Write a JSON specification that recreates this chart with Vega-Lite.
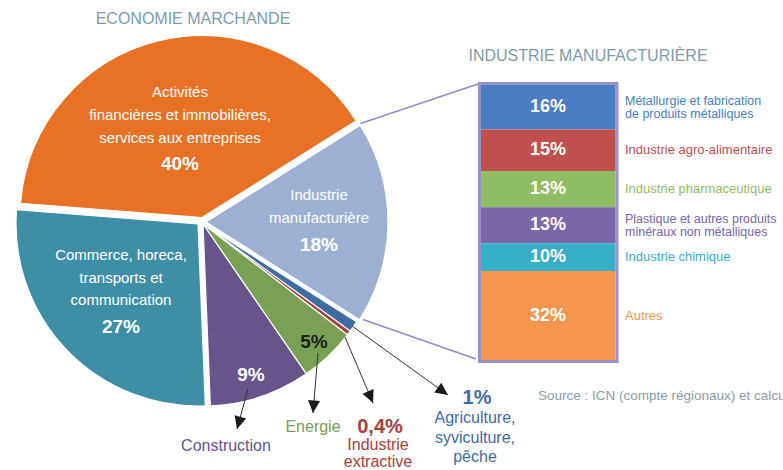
{
  "$schema": "https://vega.github.io/schema/vega-lite/v6.json",
  "width": 783,
  "height": 470,
  "autosize": {"type": "none"},
  "padding": 0,
  "background": "#ffffff",
  "config": {"view": {"stroke": null}, "font": "Liberation Sans"},
  "resolve": {"scale": {"y": "independent", "color": "independent"}},
  "layer": [
    {
      "data": {"values": [
        {"order": 1, "sector": "Activités financières et immobilières, services aux entreprises", "name": ["Activités", "financières et immobilières,", "services aux entreprises"], "value": 40, "label": "40%"},
        {"order": 2, "sector": "Industrie manufacturière", "name": ["Industrie", "manufacturière"], "value": 18, "label": "18%"},
        {"order": 3, "sector": "Agriculture, syviculture, pêche", "name": ["Agriculture,", "syviculture,", "pêche"], "value": 1, "label": "1%"},
        {"order": 4, "sector": "Industrie extractive", "name": ["Industrie", "extractive"], "value": 0.4, "label": "0,4%"},
        {"order": 5, "sector": "Energie", "name": ["Energie"], "value": 5, "label": "5%"},
        {"order": 6, "sector": "Construction", "name": ["Construction"], "value": 9, "label": "9%"},
        {"order": 7, "sector": "Commerce, horeca, transports et communication", "name": ["Commerce, horeca,", "transports et", "communication"], "value": 27, "label": "27%"}
      ]},
      "transform": [{"stack": "value", "groupby": [], "sort": [{"field": "order", "order": "ascending"}], "as": ["v0", "v1"]}],
      "layer": [
        {
          "transform": [{"filter": "datum.order >= 3 && datum.order <= 6"}],
          "mark": {"type": "arc", "radius": 182, "stroke": "#ffffff", "strokeWidth": 1.2},
          "encoding": {
            "x": {"datum": 203, "type": "quantitative", "scale": {"domain": [0, 783], "nice": false, "zero": false}, "axis": null},
            "y": {"datum": 224, "type": "quantitative", "scale": {"domain": [470, 0], "nice": false, "zero": false}, "axis": null},
            "theta": {"field": "v0", "type": "quantitative", "scale": {"domain": [0, 100.4], "range": [-1.4923, 4.7909]}},
            "theta2": {"field": "v1"},
            "color": {"field": "sector", "type": "nominal", "legend": null, "scale": {"domain": ["Activités financières et immobilières, services aux entreprises", "Industrie manufacturière", "Agriculture, syviculture, pêche", "Industrie extractive", "Energie", "Construction", "Commerce, horeca, transports et communication"], "range": ["#e97125", "#9db0d4", "#3f6ca3", "#a4403f", "#79a055", "#66548b", "#3e8fa6"]}}
          }
        },
        {
          "transform": [{"filter": "datum.order == 1"}],
          "mark": {"type": "arc", "radius": 182, "stroke": "#ffffff", "strokeWidth": 1.2},
          "encoding": {
            "x": {"datum": 202, "type": "quantitative", "scale": {"domain": [0, 783], "nice": false, "zero": false}, "axis": null},
            "y": {"datum": 217.5, "type": "quantitative", "scale": {"domain": [470, 0], "nice": false, "zero": false}, "axis": null},
            "theta": {"field": "v0", "type": "quantitative", "scale": {"domain": [0, 100.4], "range": [-1.4923, 4.7909]}},
            "theta2": {"field": "v1"},
            "color": {"field": "sector", "type": "nominal", "legend": null}
          }
        },
        {
          "transform": [{"filter": "datum.order == 2"}],
          "mark": {"type": "arc", "radius": 182, "stroke": "#ffffff", "strokeWidth": 1.2},
          "encoding": {
            "x": {"datum": 206, "type": "quantitative", "scale": {"domain": [0, 783], "nice": false, "zero": false}, "axis": null},
            "y": {"datum": 222, "type": "quantitative", "scale": {"domain": [470, 0], "nice": false, "zero": false}, "axis": null},
            "theta": {"field": "v0", "type": "quantitative", "scale": {"domain": [0, 100.4], "range": [-1.4923, 4.7909]}},
            "theta2": {"field": "v1"},
            "color": {"field": "sector", "type": "nominal", "legend": null}
          }
        },
        {
          "transform": [{"filter": "datum.order == 7"}],
          "mark": {"type": "arc", "radius": 182, "stroke": "#ffffff", "strokeWidth": 1.2},
          "encoding": {
            "x": {"datum": 198, "type": "quantitative", "scale": {"domain": [0, 783], "nice": false, "zero": false}, "axis": null},
            "y": {"datum": 224, "type": "quantitative", "scale": {"domain": [470, 0], "nice": false, "zero": false}, "axis": null},
            "theta": {"field": "v0", "type": "quantitative", "scale": {"domain": [0, 100.4], "range": [-1.4923, 4.7909]}},
            "theta2": {"field": "v1"},
            "color": {"field": "sector", "type": "nominal", "legend": null}
          }
        },
        {
          "transform": [{"filter": "datum.order == 1"}],
          "mark": {"type": "text", "fontSize": 15, "lineHeight": 23, "color": "#ffffff", "align": "center", "baseline": "middle"},
          "encoding": {
            "x": {"datum": 180, "type": "quantitative", "scale": {"domain": [0, 783], "nice": false, "zero": false}, "axis": null},
            "y": {"datum": 92, "type": "quantitative", "scale": {"domain": [470, 0], "nice": false, "zero": false}, "axis": null},
            "text": {"field": "name"}
          }
        },
        {
          "transform": [{"filter": "datum.order == 1"}],
          "mark": {"type": "text", "fontSize": 19, "fontWeight": "bold", "color": "#ffffff", "align": "center", "baseline": "middle"},
          "encoding": {
            "x": {"datum": 180, "type": "quantitative", "scale": {"domain": [0, 783], "nice": false, "zero": false}, "axis": null},
            "y": {"datum": 164, "type": "quantitative", "scale": {"domain": [470, 0], "nice": false, "zero": false}, "axis": null},
            "text": {"field": "label"}
          }
        },
        {
          "transform": [{"filter": "datum.order == 2"}],
          "mark": {"type": "text", "fontSize": 15, "lineHeight": 23, "color": "#ffffff", "align": "center", "baseline": "middle"},
          "encoding": {
            "x": {"datum": 319, "type": "quantitative", "scale": {"domain": [0, 783], "nice": false, "zero": false}, "axis": null},
            "y": {"datum": 195, "type": "quantitative", "scale": {"domain": [470, 0], "nice": false, "zero": false}, "axis": null},
            "text": {"field": "name"}
          }
        },
        {
          "transform": [{"filter": "datum.order == 2"}],
          "mark": {"type": "text", "fontSize": 19, "fontWeight": "bold", "color": "#ffffff", "align": "center", "baseline": "middle"},
          "encoding": {
            "x": {"datum": 319, "type": "quantitative", "scale": {"domain": [0, 783], "nice": false, "zero": false}, "axis": null},
            "y": {"datum": 245, "type": "quantitative", "scale": {"domain": [470, 0], "nice": false, "zero": false}, "axis": null},
            "text": {"field": "label"}
          }
        },
        {
          "transform": [{"filter": "datum.order == 7"}],
          "mark": {"type": "text", "fontSize": 15, "lineHeight": 22.5, "color": "#ffffff", "align": "center", "baseline": "middle"},
          "encoding": {
            "x": {"datum": 121, "type": "quantitative", "scale": {"domain": [0, 783], "nice": false, "zero": false}, "axis": null},
            "y": {"datum": 255, "type": "quantitative", "scale": {"domain": [470, 0], "nice": false, "zero": false}, "axis": null},
            "text": {"field": "name"}
          }
        },
        {
          "transform": [{"filter": "datum.order == 7"}],
          "mark": {"type": "text", "fontSize": 19, "fontWeight": "bold", "color": "#ffffff", "align": "center", "baseline": "middle"},
          "encoding": {
            "x": {"datum": 121, "type": "quantitative", "scale": {"domain": [0, 783], "nice": false, "zero": false}, "axis": null},
            "y": {"datum": 327, "type": "quantitative", "scale": {"domain": [470, 0], "nice": false, "zero": false}, "axis": null},
            "text": {"field": "label"}
          }
        },
        {
          "transform": [{"filter": "datum.order == 6"}],
          "mark": {"type": "text", "fontSize": 19, "fontWeight": "bold", "color": "#ffffff", "align": "center", "baseline": "middle"},
          "encoding": {
            "x": {"datum": 251, "type": "quantitative", "scale": {"domain": [0, 783], "nice": false, "zero": false}, "axis": null},
            "y": {"datum": 375, "type": "quantitative", "scale": {"domain": [470, 0], "nice": false, "zero": false}, "axis": null},
            "text": {"field": "label"}
          }
        },
        {
          "transform": [{"filter": "datum.order == 5"}],
          "mark": {"type": "text", "fontSize": 19, "fontWeight": "bold", "color": "#1e1e1e", "align": "center", "baseline": "middle"},
          "encoding": {
            "x": {"datum": 314, "type": "quantitative", "scale": {"domain": [0, 783], "nice": false, "zero": false}, "axis": null},
            "y": {"datum": 342, "type": "quantitative", "scale": {"domain": [470, 0], "nice": false, "zero": false}, "axis": null},
            "text": {"field": "label"}
          }
        },
        {
          "transform": [{"filter": "datum.order == 6"}],
          "mark": {"type": "text", "fontSize": 16, "align": "center", "baseline": "middle"},
          "encoding": {
            "x": {"datum": 226, "type": "quantitative", "scale": {"domain": [0, 783], "nice": false, "zero": false}, "axis": null},
            "y": {"datum": 446, "type": "quantitative", "scale": {"domain": [470, 0], "nice": false, "zero": false}, "axis": null},
            "text": {"field": "name"},
            "color": {"field": "sector", "type": "nominal", "legend": null}
          }
        },
        {
          "transform": [{"filter": "datum.order == 5"}],
          "mark": {"type": "text", "fontSize": 16, "align": "center", "baseline": "middle"},
          "encoding": {
            "x": {"datum": 313, "type": "quantitative", "scale": {"domain": [0, 783], "nice": false, "zero": false}, "axis": null},
            "y": {"datum": 427, "type": "quantitative", "scale": {"domain": [470, 0], "nice": false, "zero": false}, "axis": null},
            "text": {"field": "name"},
            "color": {"field": "sector", "type": "nominal", "legend": null}
          }
        },
        {
          "transform": [{"filter": "datum.order == 4"}],
          "mark": {"type": "text", "fontSize": 20, "fontWeight": "bold", "align": "center", "baseline": "middle"},
          "encoding": {
            "x": {"datum": 380, "type": "quantitative", "scale": {"domain": [0, 783], "nice": false, "zero": false}, "axis": null},
            "y": {"datum": 427, "type": "quantitative", "scale": {"domain": [470, 0], "nice": false, "zero": false}, "axis": null},
            "text": {"field": "label"},
            "color": {"field": "sector", "type": "nominal", "legend": null}
          }
        },
        {
          "transform": [{"filter": "datum.order == 4"}],
          "mark": {"type": "text", "fontSize": 16, "lineHeight": 17, "align": "center", "baseline": "middle"},
          "encoding": {
            "x": {"datum": 378, "type": "quantitative", "scale": {"domain": [0, 783], "nice": false, "zero": false}, "axis": null},
            "y": {"datum": 445, "type": "quantitative", "scale": {"domain": [470, 0], "nice": false, "zero": false}, "axis": null},
            "text": {"field": "name"},
            "color": {"field": "sector", "type": "nominal", "legend": null}
          }
        },
        {
          "transform": [{"filter": "datum.order == 3"}],
          "mark": {"type": "text", "fontSize": 20, "fontWeight": "bold", "align": "center", "baseline": "middle"},
          "encoding": {
            "x": {"datum": 477, "type": "quantitative", "scale": {"domain": [0, 783], "nice": false, "zero": false}, "axis": null},
            "y": {"datum": 398, "type": "quantitative", "scale": {"domain": [470, 0], "nice": false, "zero": false}, "axis": null},
            "text": {"field": "label"},
            "color": {"field": "sector", "type": "nominal", "legend": null}
          }
        },
        {
          "transform": [{"filter": "datum.order == 3"}],
          "mark": {"type": "text", "fontSize": 16, "lineHeight": 19.5, "align": "center", "baseline": "middle"},
          "encoding": {
            "x": {"datum": 475, "type": "quantitative", "scale": {"domain": [0, 783], "nice": false, "zero": false}, "axis": null},
            "y": {"datum": 418, "type": "quantitative", "scale": {"domain": [470, 0], "nice": false, "zero": false}, "axis": null},
            "text": {"field": "name"},
            "color": {"field": "sector", "type": "nominal", "legend": null}
          }
        }
      ]
    },
    {
      "data": {"values": [{}]},
      "layer": [
        {
          "mark": {"type": "text", "text": "ECONOMIE MARCHANDE", "fontSize": 16, "color": "#7d9ca9", "align": "center", "baseline": "middle"},
          "encoding": {
            "x": {"datum": 193, "type": "quantitative", "scale": {"domain": [0, 783], "nice": false, "zero": false}, "axis": null},
            "y": {"datum": 18.5, "type": "quantitative", "scale": {"domain": [470, 0], "nice": false, "zero": false}, "axis": null}
          }
        },
        {
          "mark": {"type": "text", "text": "INDUSTRIE MANUFACTURIÈRE", "fontSize": 16, "color": "#7d9ca9", "align": "center", "baseline": "middle"},
          "encoding": {
            "x": {"datum": 588, "type": "quantitative", "scale": {"domain": [0, 783], "nice": false, "zero": false}, "axis": null},
            "y": {"datum": 56, "type": "quantitative", "scale": {"domain": [470, 0], "nice": false, "zero": false}, "axis": null}
          }
        },
        {
          "mark": {"type": "text", "text": "Source : ICN (compte régionaux) et calculs IWEPS", "fontSize": 13.5, "color": "#8b9da7", "align": "left", "baseline": "middle"},
          "encoding": {
            "x": {"datum": 538, "type": "quantitative", "scale": {"domain": [0, 783], "nice": false, "zero": false}, "axis": null},
            "y": {"datum": 396, "type": "quantitative", "scale": {"domain": [470, 0], "nice": false, "zero": false}, "axis": null}
          }
        },
        {
          "mark": {"type": "rule", "color": "#8f8cca", "strokeWidth": 1.5},
          "encoding": {
            "x": {"datum": 360.5, "type": "quantitative", "scale": {"domain": [0, 783], "nice": false, "zero": false}, "axis": null},
            "y": {"datum": 123.5, "type": "quantitative", "scale": {"domain": [470, 0], "nice": false, "zero": false}, "axis": null},
            "x2": {"datum": 478},
            "y2": {"datum": 84}
          }
        },
        {
          "mark": {"type": "rule", "color": "#8f8cca", "strokeWidth": 1.5},
          "encoding": {
            "x": {"datum": 363, "type": "quantitative", "scale": {"domain": [0, 783], "nice": false, "zero": false}, "axis": null},
            "y": {"datum": 319.5, "type": "quantitative", "scale": {"domain": [470, 0], "nice": false, "zero": false}, "axis": null},
            "x2": {"datum": 476},
            "y2": {"datum": 359}
          }
        },
        {
          "mark": {"type": "rect", "fill": null, "fillOpacity": 0, "stroke": "#9491cb", "strokeWidth": 3},
          "encoding": {
            "x": {"datum": 479.5, "type": "quantitative", "scale": {"domain": [0, 783], "nice": false, "zero": false}, "axis": null},
            "y": {"datum": 83.5, "type": "quantitative", "scale": {"domain": [470, 0], "nice": false, "zero": false}, "axis": null},
            "x2": {"datum": 617},
            "y2": {"datum": 361.5}
          }
        },
        {
          "mark": {"type": "rule", "color": "#333333", "strokeWidth": 1},
          "encoding": {
            "x": {"datum": 248, "type": "quantitative", "scale": {"domain": [0, 783], "nice": false, "zero": false}, "axis": null},
            "y": {"datum": 389, "type": "quantitative", "scale": {"domain": [470, 0], "nice": false, "zero": false}, "axis": null},
            "x2": {"datum": 237},
            "y2": {"datum": 429}
          }
        },
        {
          "mark": {"type": "rule", "color": "#333333", "strokeWidth": 1},
          "encoding": {
            "x": {"datum": 318, "type": "quantitative", "scale": {"domain": [0, 783], "nice": false, "zero": false}, "axis": null},
            "y": {"datum": 353, "type": "quantitative", "scale": {"domain": [470, 0], "nice": false, "zero": false}, "axis": null},
            "x2": {"datum": 313},
            "y2": {"datum": 413}
          }
        },
        {
          "mark": {"type": "rule", "color": "#333333", "strokeWidth": 1},
          "encoding": {
            "x": {"datum": 345, "type": "quantitative", "scale": {"domain": [0, 783], "nice": false, "zero": false}, "axis": null},
            "y": {"datum": 337, "type": "quantitative", "scale": {"domain": [470, 0], "nice": false, "zero": false}, "axis": null},
            "x2": {"datum": 373},
            "y2": {"datum": 403}
          }
        },
        {
          "mark": {"type": "rule", "color": "#333333", "strokeWidth": 1},
          "encoding": {
            "x": {"datum": 352, "type": "quantitative", "scale": {"domain": [0, 783], "nice": false, "zero": false}, "axis": null},
            "y": {"datum": 326, "type": "quantitative", "scale": {"domain": [470, 0], "nice": false, "zero": false}, "axis": null},
            "x2": {"datum": 448},
            "y2": {"datum": 395}
          }
        },
        {
          "mark": {"type": "point", "shape": "M0,0L-0.5,-1.05L0.5,-1.05Z", "filled": true, "color": "#1a1a1a", "opacity": 1, "size": 576, "angle": 15.75, "strokeWidth": 0},
          "encoding": {
            "x": {"datum": 237, "type": "quantitative", "scale": {"domain": [0, 783], "nice": false, "zero": false}, "axis": null},
            "y": {"datum": 429, "type": "quantitative", "scale": {"domain": [470, 0], "nice": false, "zero": false}, "axis": null}
          }
        },
        {
          "mark": {"type": "point", "shape": "M0,0L-0.5,-1.05L0.5,-1.05Z", "filled": true, "color": "#1a1a1a", "opacity": 1, "size": 576, "angle": 4.8, "strokeWidth": 0},
          "encoding": {
            "x": {"datum": 313, "type": "quantitative", "scale": {"domain": [0, 783], "nice": false, "zero": false}, "axis": null},
            "y": {"datum": 413, "type": "quantitative", "scale": {"domain": [470, 0], "nice": false, "zero": false}, "axis": null}
          }
        },
        {
          "mark": {"type": "point", "shape": "M0,0L-0.5,-1.05L0.5,-1.05Z", "filled": true, "color": "#1a1a1a", "opacity": 1, "size": 576, "angle": -23, "strokeWidth": 0},
          "encoding": {
            "x": {"datum": 373, "type": "quantitative", "scale": {"domain": [0, 783], "nice": false, "zero": false}, "axis": null},
            "y": {"datum": 403, "type": "quantitative", "scale": {"domain": [470, 0], "nice": false, "zero": false}, "axis": null}
          }
        },
        {
          "mark": {"type": "point", "shape": "M0,0L-0.5,-1.05L0.5,-1.05Z", "filled": true, "color": "#1a1a1a", "opacity": 1, "size": 576, "angle": -54.3, "strokeWidth": 0},
          "encoding": {
            "x": {"datum": 448, "type": "quantitative", "scale": {"domain": [0, 783], "nice": false, "zero": false}, "axis": null},
            "y": {"datum": 395, "type": "quantitative", "scale": {"domain": [470, 0], "nice": false, "zero": false}, "axis": null}
          }
        }
      ]
    },
    {
      "data": {"values": [
        {"order": 1, "sub": "Métallurgie et fabrication de produits métalliques", "name": ["Métallurgie et fabrication", "de produits métalliques"], "value": 16, "label": "16%"},
        {"order": 2, "sub": "Industrie agro-alimentaire", "name": ["Industrie agro-alimentaire"], "value": 15, "label": "15%"},
        {"order": 3, "sub": "Industrie pharmaceutique", "name": ["Industrie pharmaceutique"], "value": 13, "label": "13%"},
        {"order": 4, "sub": "Plastique et autres produits minéraux non métalliques", "name": ["Plastique et autres produits", "minéraux non métalliques"], "value": 13, "label": "13%"},
        {"order": 5, "sub": "Industrie chimique", "name": ["Industrie chimique"], "value": 10, "label": "10%"},
        {"order": 6, "sub": "Autres", "name": ["Autres"], "value": 32, "label": "32%"}
      ]},
      "transform": [
        {"stack": "value", "groupby": [], "sort": [{"field": "order", "order": "ascending"}], "as": ["s0", "s1"]},
        {"calculate": "(datum.s0 + datum.s1) / 2", "as": "smid"}
      ],
      "layer": [
        {
          "mark": {"type": "rect"},
          "encoding": {
            "x": {"datum": 481, "type": "quantitative", "scale": {"domain": [0, 783], "nice": false, "zero": false}, "axis": null},
            "x2": {"datum": 615.5},
            "y": {"field": "s0", "type": "quantitative", "scale": {"domain": [0, 99], "range": [85, 360], "nice": false, "zero": false}, "axis": null},
            "y2": {"field": "s1"},
            "color": {"field": "sub", "type": "nominal", "legend": null, "scale": {"domain": ["Métallurgie et fabrication de produits métalliques", "Industrie agro-alimentaire", "Industrie pharmaceutique", "Plastique et autres produits minéraux non métalliques", "Industrie chimique", "Autres"], "range": ["#4a7dc1", "#c0504d", "#8fbd63", "#7b66a8", "#37aec8", "#f6964e"]}}
          }
        },
        {
          "mark": {"type": "text", "fontSize": 18, "fontWeight": "bold", "color": "#ffffff", "align": "center", "baseline": "middle"},
          "encoding": {
            "x": {"datum": 548, "type": "quantitative", "scale": {"domain": [0, 783], "nice": false, "zero": false}, "axis": null},
            "y": {"field": "smid", "type": "quantitative", "scale": {"domain": [0, 99], "range": [85, 360], "nice": false, "zero": false}, "axis": null},
            "text": {"field": "label"}
          }
        },
        {
          "transform": [{"filter": "length(datum.name) == 1"}],
          "mark": {"type": "text", "fontSize": 13, "lineHeight": 13, "align": "left", "baseline": "middle"},
          "encoding": {
            "x": {"datum": 625, "type": "quantitative", "scale": {"domain": [0, 783], "nice": false, "zero": false}, "axis": null},
            "y": {"field": "smid", "type": "quantitative", "scale": {"domain": [0, 99], "range": [85, 360], "nice": false, "zero": false}, "axis": null},
            "text": {"field": "name"},
            "color": {"field": "sub", "type": "nominal", "legend": null}
          }
        },
        {
          "transform": [{"filter": "length(datum.name) > 1"}],
          "mark": {"type": "text", "fontSize": 12.5, "lineHeight": 13, "dy": -6.5, "align": "left", "baseline": "middle"},
          "encoding": {
            "x": {"datum": 625, "type": "quantitative", "scale": {"domain": [0, 783], "nice": false, "zero": false}, "axis": null},
            "y": {"field": "smid", "type": "quantitative", "scale": {"domain": [0, 99], "range": [85, 360], "nice": false, "zero": false}, "axis": null},
            "text": {"field": "name"},
            "color": {"field": "sub", "type": "nominal", "legend": null}
          }
        }
      ]
    }
  ]
}
